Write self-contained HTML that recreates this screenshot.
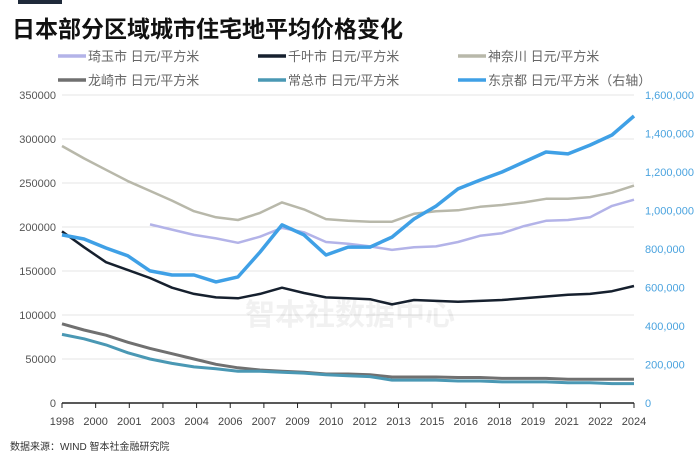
<!DOCTYPE html>
<html><head><meta charset="utf-8"><style>
body{margin:0;background:#fff;width:700px;height:458px;overflow:hidden;font-family:"Liberation Sans","Noto Sans CJK SC",sans-serif}
</style></head><body>
<svg id="chart" width="700" height="458" xmlns="http://www.w3.org/2000/svg" font-family="Liberation Sans, Noto Sans CJK SC, sans-serif">
<rect x="18" y="0" width="44" height="4" fill="#1f2a3a"/>
<text x="12" y="37" font-size="23" font-weight="bold" fill="#111">日本部分区域城市住宅地平均价格变化</text>
<g id="legend"></g>
<g id="grid"></g>
<text x="350" y="325" font-size="30" font-weight="bold" fill="#000" opacity="0.05" text-anchor="middle">智本社数据中心</text>
<g id="series"></g>
<g id="axes"></g>
<text x="10" y="450" font-size="10" fill="#333">数据来源：WIND 智本社金融研究院</text>
</svg>
<script>
const years=[1998,1999,2000,2001,2002,2003,2004,2005,2006,2007,2008,2009,2010,2011,2012,2013,2014,2015,2016,2017,2018,2019,2020,2021,2022,2023,2024];
const xLabels=["1998","2000","2001","2003","2004","2006","2007","2009","2010","2012","2013","2015","2016","2018","2019","2021","2022","2024"];
const leftTicks=[0,50000,100000,150000,200000,250000,300000,350000];
const rightTicks=[0,200000,400000,600000,800000,1000000,1200000,1400000,1600000];
const saitama=[null,null,null,null,203000,197000,191000,187000,182000,189000,199000,194000,183000,181000,178000,174000,177000,178000,183000,190000,193000,201000,207000,208000,211000,224000,231000];
const chiba=[195000,177000,160000,151000,142000,131000,124000,120000,119000,124000,131000,125000,120000,119000,118000,112000,117000,116000,115000,116000,117000,119000,121000,123000,124000,127000,133000];
const kanagawa=[292000,278000,265000,252000,241000,230000,218000,211000,208000,216000,228000,220000,209000,207000,206000,206000,215000,218000,219000,223000,225000,228000,232000,232000,234000,239000,247000];
const ryugasaki=[90000,83000,77000,69000,62000,56000,50000,44000,40000,37500,36000,35000,33000,33000,32000,29500,29500,29500,29000,29000,28000,28000,28000,27000,27000,27000,27000];
const joso=[78000,73000,66000,57000,50000,45000,41000,39000,36000,36000,35000,34000,32000,31000,30000,26000,26000,26000,25000,25000,24000,24000,24000,23000,23000,22000,22000];
const tokyo=[873000,852000,805000,764000,686000,665000,665000,629000,655000,784000,925000,873000,769000,810000,810000,862000,956000,1023000,1112000,1158000,1200000,1252000,1304000,1294000,1340000,1392000,1491000];

const NS="http://www.w3.org/2000/svg";
const X0=62,X1=634,Y0=403,Y1=95;
const xPos=i=>X0+i*(X1-X0)/(years.length-1);
const yL=v=>Y0-v/350000*(Y0-Y1);
const yR=v=>Y0-v/1600000*(Y0-Y1);
function mk(tag,attrs,parent){const e=document.createElementNS(NS,tag);for(const k in attrs)e.setAttribute(k,attrs[k]);parent.appendChild(e);return e;}
const grid=document.getElementById('grid'),axes=document.getElementById('axes'),ser=document.getElementById('series'),leg=document.getElementById('legend');
leftTicks.forEach(v=>{
  if(v>0){const l=mk('line',{x1:X0,x2:X1,y1:yL(v),y2:yL(v),stroke:'#e4e4e4','stroke-width':1},grid);
  
  }
  const t=mk('text',{x:56,y:yL(v)+4,'font-size':11,fill:'#555','text-anchor':'end'},axes);t.textContent=v;
  
  
});
rightTicks.forEach(v=>{
  const t=mk('text',{x:645,y:yR(v)+4,'font-size':11,fill:'#4aa3df'},axes);t.textContent=v.toLocaleString('en-US');
  
  
});
const ax=mk('line',{x1:X0,x2:X1,y1:Y0,y2:Y0,stroke:'#222','stroke-width':1.5},axes);


xLabels.forEach((s,k)=>{
  const x=X0+k*(X1-X0)/(xLabels.length-1);
  const tk=mk('line',{x1:x,x2:x,y1:Y0,y2:Y0+5,stroke:'#222','stroke-width':1},axes);
  
  
  const t=mk('text',{x:x,y:Y0+22,'font-size':11,fill:'#444','text-anchor':'middle'},axes);t.textContent=s;
  
  
});
const defs=[
 ['saitama',saitama,'#b3b3e8',2.5,yL,'琦玉市 日元/平方米'],
 ['chiba',chiba,'#16202e',2.5,yL,'千叶市 日元/平方米'],
 ['kanagawa',kanagawa,'#b8b8aa',2.5,yL,'神奈川 日元/平方米'],
 ['ryugasaki',ryugasaki,'#707070',3,yL,'龙崎市 日元/平方米'],
 ['joso',joso,'#4a98b4',3,yL,'常总市 日元/平方米'],
 ['tokyo',tokyo,'#3fa0e6',3.5,yR,'东京都 日元/平方米（右轴）']];
defs.forEach((d,k)=>{
  let p='';d[1].forEach((v,i)=>{if(v==null)return;p+=(p?'L':'M')+xPos(i).toFixed(1)+','+d[4](v).toFixed(1);});
  const path=mk('path',{d:p,fill:'none',stroke:d[2],'stroke-width':d[3],'stroke-linejoin':'round'},ser);
  
  
  const lx=[58,258,458][k%3],ly=k<3?56:80;
  const g=mk('g',{},leg);
  
  
  mk('line',{x1:lx,x2:lx+28,y1:ly,y2:ly,stroke:d[2],'stroke-width':3.5},g);
  const t=mk('text',{x:lx+30,y:ly+5,'font-size':13,fill:'#666'},g);t.textContent=d[5];
});
</script>
</body></html>
